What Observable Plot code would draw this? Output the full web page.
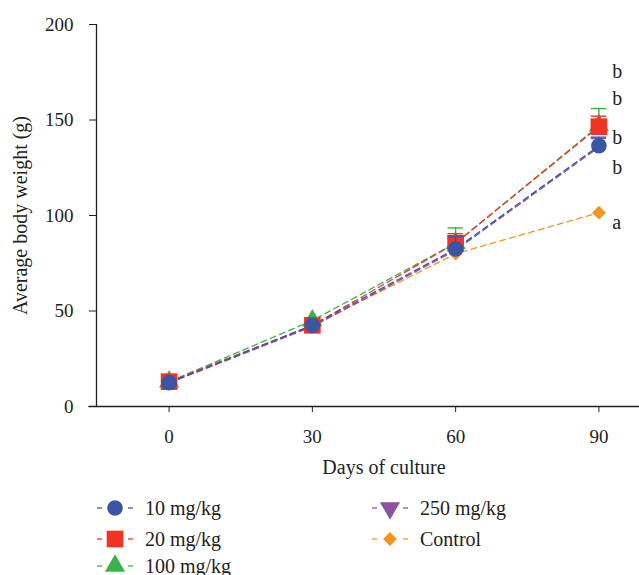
<!DOCTYPE html>
<html><head><meta charset="utf-8">
<script src="https://cdn.jsdelivr.net/npm/d3@7"></script>
<script src="https://cdn.jsdelivr.net/npm/@observablehq/plot@0.6"></script>
<style>
body{margin:0;background:#fff;}
#wrap{position:relative;width:639px;height:575px;font-family:"Liberation Serif",serif;color:#231f20;overflow:hidden;}
.leg{position:absolute;display:flex;align-items:center;font-size:20px;height:24px;}
.leg svg{margin-right:10px;}
</style></head><body><div id="wrap"><div id="chart"></div></div>
<script>
const days = [0, 30, 60, 90];
const seriesNames = ["10 mg/kg", "20 mg/kg", "100 mg/kg", "250 mg/kg", "Control"];
const w10 = [12.5, 42.5, 82.5, 136.5];
const w20 = [13, 42.5, 85.5, 146.5];
const w100 = [13, 45, 85.5, 147];
const w250 = [12.3, 41.8, 81.8, 135.8];
const wCtrl = [13, 42.3, 80, 101.5];
const sd10 = [0.8, 1, 6.5, 4.5];
const sd20 = [0.8, 1, 5, 5.5];
const sd100 = [0.8, 1.5, 8, 9];
const sd250 = [0.8, 1, 6, 4.5];
const sdCtrl = [0, 0, 0, 0];
const letters = ["b", "b", "b", "b", "a"];
const letterY = [175.5, 161.3, 140.8, 125.1, 96.3];
const yTicks = [0, 50, 100, 150, 200];

const colors = {"10 mg/kg":"#3b55a5","20 mg/kg":"#ee3524","100 mg/kg":"#3cb04a","250 mg/kg":"#8b52a1","Control":"#f7941d"};
const symbols = {"10 mg/kg":"circle","20 mg/kg":"square","100 mg/kg":"triangle","250 mg/kg":"triangle","Control":"diamond2"};
const rotates = {"10 mg/kg":0,"20 mg/kg":0,"100 mg/kg":0,"250 mg/kg":180,"Control":0};
const sizes = {"10 mg/kg":7.8,"20 mg/kg":9.4,"100 mg/kg":7.5,"250 mg/kg":4.0,"Control":6.2};
const legendSizes = {"10 mg/kg":7.8,"20 mg/kg":9.4,"100 mg/kg":7.5,"250 mg/kg":7.5,"Control":6.2};
const vals = {"10 mg/kg":w10,"20 mg/kg":w20,"100 mg/kg":w100,"250 mg/kg":w250,"Control":wCtrl};
const sds = {"10 mg/kg":sd10,"20 mg/kg":sd20,"100 mg/kg":sd100,"250 mg/kg":sd250,"Control":sdCtrl};

const rows = seriesNames.flatMap(s => days.map((d, i) => ({series: s, day: d, w: vals[s][i], sd: sds[s][i]})));
const drawOrder = ["Control", "250 mg/kg", "100 mg/kg", "20 mg/kg", "10 mg/kg"];
const ink = "#231f20";
const xmin = -15.2, xmax = 98.5;

const marks = [];
for (const s of drawOrder) {
  marks.push(Plot.line(rows.filter(r => r.series === s), {x: "day", y: "w", stroke: colors[s], strokeWidth: 1.3, strokeDasharray: "6,4"}));
}
for (const s of drawOrder) {
  const data = rows.filter(r => r.series === s);
  const err = data.filter(r => r.sd > 0);
  marks.push(Plot.ruleX(err, {x: "day", y1: "w", y2: r => r.w + r.sd, stroke: colors[s], strokeWidth: 1.4}));
  marks.push(Plot.ruleY(err, {y: r => r.w + r.sd, x1: r => r.day - 1.6, x2: r => r.day + 1.6, stroke: colors[s], strokeWidth: 1.4}));
  marks.push(Plot.dot(data, {x: "day", y: "w", symbol: symbols[s], r: sizes[s], fill: colors[s], stroke: "none", rotate: rotates[s]}));
}

const chart = Plot.plot({
  width: 639, height: 480,
  marginLeft: 96, marginRight: 0, marginTop: 24, marginBottom: 74,
  style: {fontFamily: "Liberation Serif, serif", fontSize: "19px", color: ink, background: "#fff"},
  x: {domain: [xmin, xmax]},
  y: {domain: [0, 200]},
  marks: [
    Plot.ruleX([xmin], {y1: 0, y2: 200, stroke: ink, strokeWidth: 1.3}),
    Plot.ruleY([0], {x1: xmin - 1.6, x2: xmax, stroke: ink, strokeWidth: 1.3}),
    Plot.axisY({ticks: yTicks, tickSize: 7, tickPadding: 16, fontSize: 19, label: null, stroke: ink}),
    Plot.axisX({ticks: days, tickSize: 6, tickPadding: 17, fontSize: 19, label: null, stroke: ink}),
    Plot.text(["Average body weight (g)"], {frameAnchor: "left", dx: -76, rotate: -90, text: d => d, textAnchor: "middle", lineAnchor: "middle", fontSize: 20, fill: ink}),
    Plot.text(["Days of culture"], {x: 45, frameAnchor: "bottom", dy: 61, text: d => d, lineAnchor: "middle", fontSize: 20, fill: ink}),
    ...marks,
    Plot.text(letters, {x: 92.8, y: (d, i) => letterY[i], text: d => d, textAnchor: "start", fontSize: 20, fill: ink})
  ]
});
document.getElementById("chart").appendChild(chart);

// legend
const legendPos = [
  {s: "10 mg/kg", left: 95, top: 496},
  {s: "20 mg/kg", left: 95, top: 527},
  {s: "100 mg/kg", left: 95, top: 554},
  {s: "250 mg/kg", left: 370, top: 496},
  {s: "Control", left: 370, top: 527}
];
const wrap = document.getElementById("wrap");
for (const p of legendPos) {
  const div = document.createElement("div");
  div.className = "leg";
  div.style.left = p.left + "px";
  div.style.top = p.top + "px";
  const c = colors[p.s];
  const sym = {circle: d3.symbolCircle, square: d3.symbolSquare, triangle: d3.symbolTriangle, diamond2: d3.symbolDiamond2}[symbols[p.s]];
  const r = legendSizes[p.s];
  const path = d3.symbol(sym, Math.PI * r * r)();
  div.innerHTML = `<svg width="40" height="24"><line x1="2" x2="7" y1="12" y2="12" stroke="${c}" stroke-width="1.3"/><line x1="33" x2="38" y1="12" y2="12" stroke="${c}" stroke-width="1.3"/><path d="${path}" transform="translate(20,12) rotate(${rotates[p.s]})" fill="${c}"/></svg><span>${p.s}</span>`;
  wrap.appendChild(div);
}
</script></body></html>
